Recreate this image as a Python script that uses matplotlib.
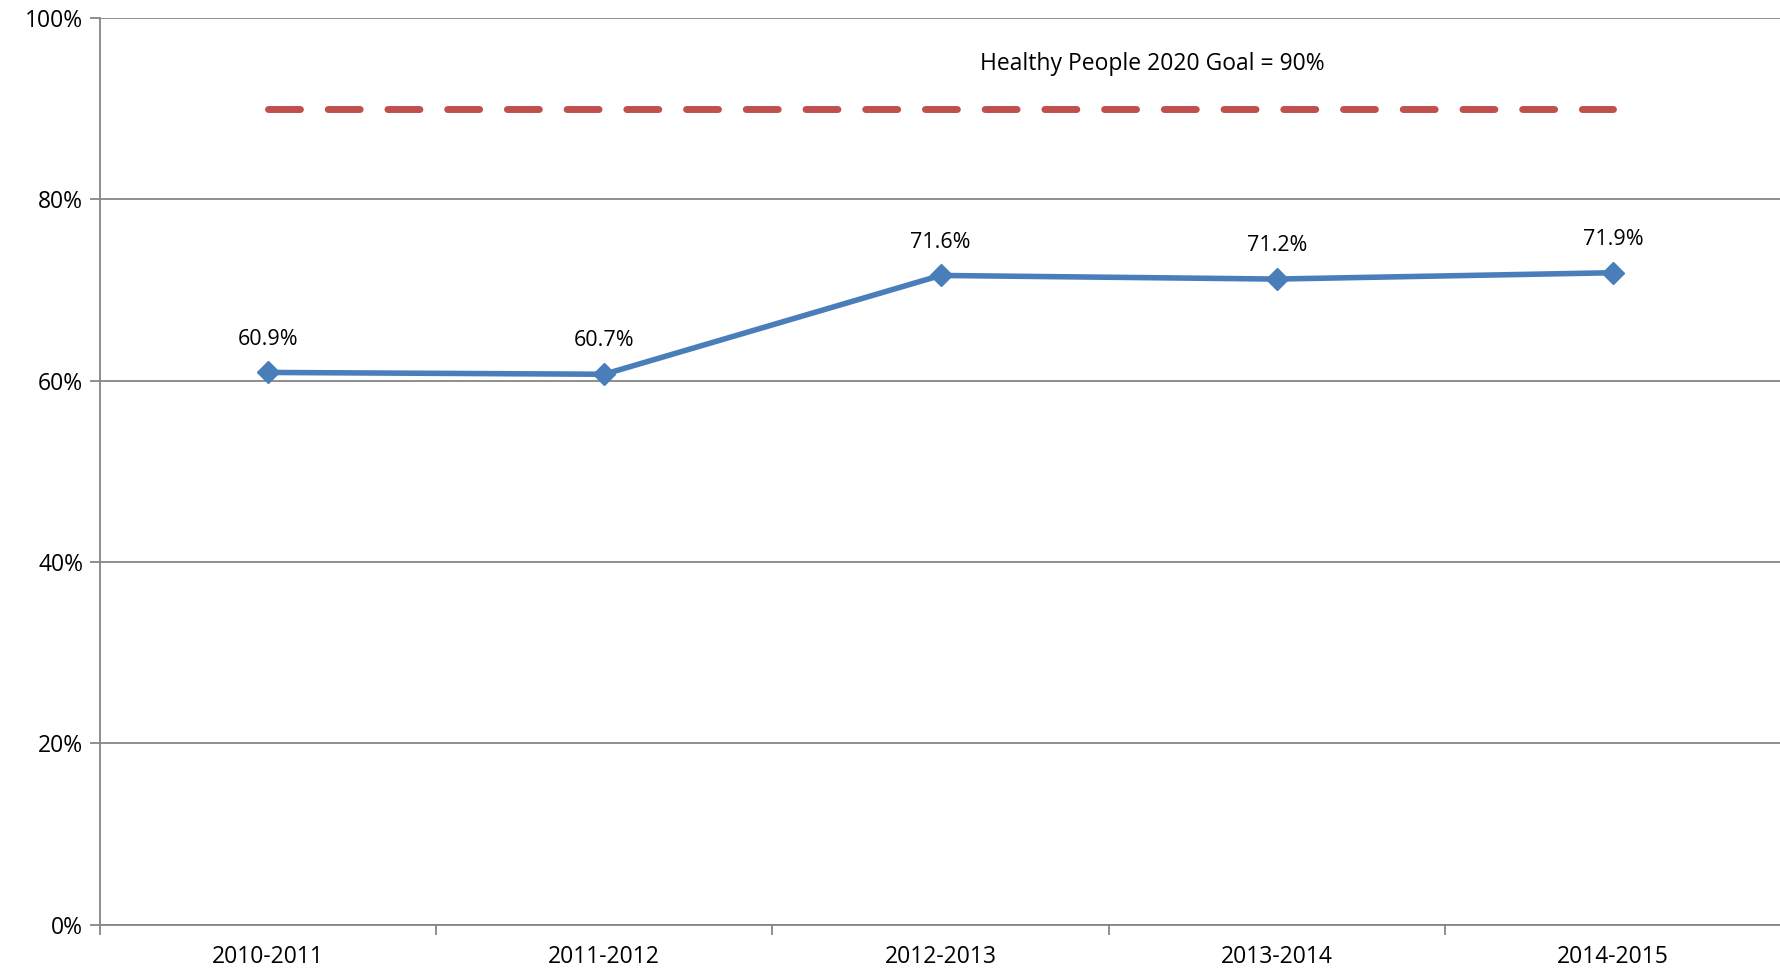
import numpy as np
import matplotlib.pyplot as plt

years = ['2010-2011', '2011-2012', '2012-2013', '2013-2014', '2014-2015']
rates = [60.9, 60.7, 71.6, 71.2, 71.9]
goal = 90
goal_label = 'Healthy People 2020 Goal = 90%'

plt.rcParams['font.family'] = ['Open Sans', 'DejaVu Sans']

fig = plt.figure(figsize=(17.81, 9.73), dpi=100)
ax = fig.add_axes([100 / 1781, 48.5 / 973, 1681 / 1781, 906.5 / 973])

x = np.arange(len(years))
ax.plot([x[0], x[-1]], [goal, goal], color='#C0504D', lw=5, ls=(0, (4.6, 4)),
        dash_capstyle='round', zorder=3)
ax.plot(x, rates, color='#4A7EBB', lw=4, marker='D', ms=11, zorder=4)

for xi, v in zip(x, rates):
    ax.annotate(f'{v}%', (xi, v), xytext=(0, 24), textcoords='offset points',
                ha='center', va='center', fontsize=15.5)

ax.text(2.63, 94.9, goal_label, ha='center', va='center', fontsize=16.5)

# category width ~338 px, right end clipped by the figure edge
ax.set_xlim(-0.5, -0.5 + 1681 / 338.25)
ax.set_ylim(0, 100)
ax.set_yticks(np.arange(0, 101, 20))
ax.set_yticklabels([f'{t}%' for t in range(0, 101, 20)], fontsize=16.5)
ax.yaxis.grid(True, color='#868686', lw=1.3)
ax.set_axisbelow(True)

ax.set_xticks(x)
ax.set_xticklabels(years, fontsize=16.5)
ax.set_xticks(np.arange(-0.5, 4.6, 1), minor=True)
ax.tick_params(axis='x', which='major', length=0, pad=15)
ax.tick_params(axis='x', which='minor', length=7, color='#868686', width=1.3)
ax.tick_params(axis='y', length=7, color='#868686', width=1.3, pad=5)

for s in ['top', 'right']:
    ax.spines[s].set_visible(False)
for s in ['left', 'bottom']:
    ax.spines[s].set_color('#868686')
    ax.spines[s].set_linewidth(1.3)

fig.savefig('out.png', dpi=100)
